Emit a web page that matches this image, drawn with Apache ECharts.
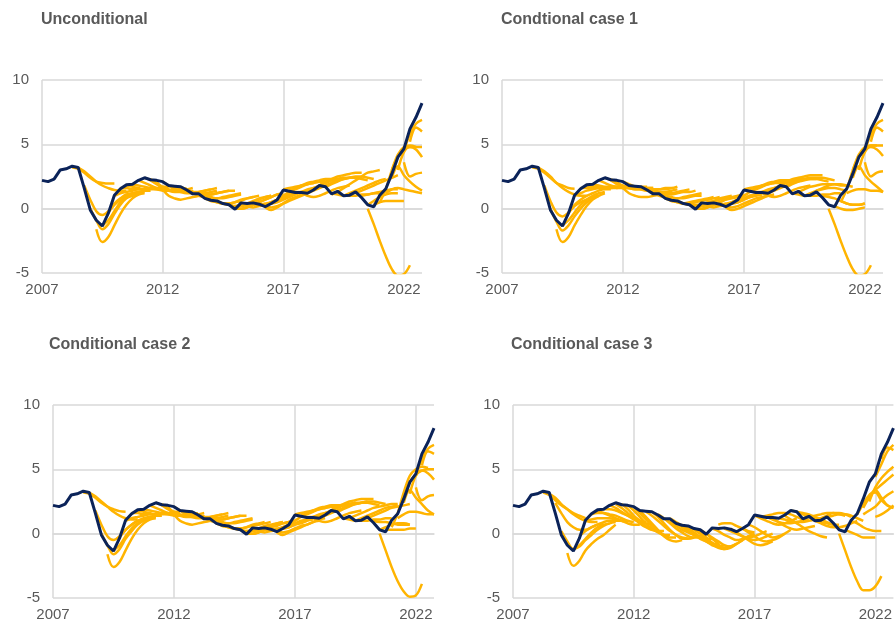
<!DOCTYPE html>
<html><head><meta charset="utf-8">
<script src="https://cdn.jsdelivr.net/npm/echarts@6/dist/echarts.min.js"></script>
<style>html,body{margin:0;padding:0;background:#fff}#c{width:895px;height:626px}</style>
</head><body><div id="c"></div>
<script>
// Quarter categories 2007Q1 .. 2022Q4
const years = [2007,2008,2009,2010,2011,2012,2013,2014,2015,2016,2017,2018,2019,2020,2021,2022];
const quarters = [];
years.forEach(y => ['Q1','Q2','Q3','Q4'].forEach(q => quarters.push(y + q)));

const panelTitles = ['Unconditional', 'Condtional case 1', 'Conditional case 2', 'Conditional case 3'];

// Realised inflation (navy line), quarterly
const actual = [2.2,2.1,2.3,3.0,3.1,3.3,3.2,1.6,-0.1,-0.9,
  -1.35,-0.35,1.05,1.55,1.85,1.9,2.2,2.4,2.25,2.2,
  2.1,1.8,1.75,1.7,1.45,1.15,1.15,0.8,0.65,0.6,
  0.4,0.3,-0.05,0.45,0.4,0.45,0.35,0.15,0.4,0.7,
  1.45,1.35,1.25,1.25,1.2,1.45,1.8,1.7,1.15,1.35,
  1.0,1.05,1.3,0.85,0.3,0.15,1.05,1.55,2.7,4.0,
  4.65,6.2,7.1,8.2];

// Forecast paths: [start quarter index, values...]
const uncondPaths = [
  [5, 3.2, 3.1, 2.8, 2.4, 2.1, 2.0, 1.95, 1.95],
  [6, 3.2, 2.9, 2.5, 2.1, 1.8, 1.6, 1.45, 1.4, 1.4],
  [7, 1.8, 0.7, -0.2, -0.5, -0.2, 0.4, 0.8, 1.1, 1.2, 1.25],
  [8, 0.0, -0.9, -1.6, -1.2, -0.4, 0.3, 0.8, 1.0, 1.1],
  [9, -1.6, -2.6, -2.2, -1.3, -0.4, 0.3, 0.8, 1.1, 1.2],
  [10, -1.3, -0.9, -0.2, 0.5, 0.9, 1.1, 1.2, 1.3],
  [11, -0.3, 0.3, 0.7, 1.0, 1.2, 1.3, 1.4, 1.4],
  [12, 1.0, 1.2, 1.3, 1.4, 1.5, 1.5, 1.6, 1.6],
  [13, 1.6, 1.6, 1.5, 1.5, 1.5, 1.6, 1.6, 1.7, 1.7],
  [14, 1.8, 1.7, 1.6, 1.5, 1.5, 1.5, 1.5, 1.6],
  [15, 1.9, 1.8, 1.7, 1.6, 1.5, 1.4, 1.4, 1.5],
  [16, 2.2, 2.0, 1.8, 1.6, 1.5, 1.4, 1.5, 1.5, 1.6],
  [17, 2.4, 2.2, 1.9, 1.6, 1.4, 1.3, 1.3, 1.3, 1.4],
  [18, 2.3, 2.0, 1.7, 1.5, 1.4, 1.4, 1.5, 1.6],
  [19, 2.1, 1.5, 1.0, 0.8, 0.7, 0.8, 0.9, 1.0, 1.1],
  [20, 2.1, 1.8, 1.5, 1.3, 1.2, 1.2, 1.3, 1.4, 1.5],
  [21, 1.8, 1.6, 1.5, 1.4, 1.3, 1.3, 1.4, 1.5, 1.6],
  [22, 1.7, 1.6, 1.4, 1.3, 1.2, 1.2, 1.3, 1.4],
  [23, 1.7, 1.5, 1.3, 1.2, 1.1, 1.1, 1.2, 1.3, 1.4],
  [24, 1.5, 1.3, 1.2, 1.1, 1.1, 1.2, 1.3, 1.4, 1.4],
  [25, 1.2, 1.0, 0.9, 0.8, 0.8, 0.9, 1.0, 1.1, 1.2],
  [26, 1.2, 1.0, 0.9, 0.8, 0.8, 0.9, 1.0, 1.1],
  [27, 0.8, 0.6, 0.5, 0.4, 0.4, 0.5, 0.7, 0.8, 0.9],
  [28, 0.7, 0.5, 0.4, 0.4, 0.5, 0.6, 0.8, 0.9, 1.0],
  [29, 0.6, 0.4, 0.3, 0.2, 0.3, 0.4, 0.6, 0.8, 0.9, 1.0],
  [30, 0.4, 0.3, 0.2, 0.2, 0.3, 0.5, 0.7, 0.9, 1.0],
  [31, 0.3, 0.1, 0.0, 0.1, 0.3, 0.5, 0.7, 0.9, 1.1, 1.2],
  [32, 0.0, 0.0, 0.1, 0.3, 0.5, 0.7, 0.9, 1.1, 1.2],
  [33, 0.4, 0.2, 0.1, 0.2, 0.3, 0.5, 0.7, 0.9, 1.1, 1.3],
  [34, 0.4, 0.3, 0.3, 0.4, 0.5, 0.7, 0.9, 1.1, 1.2],
  [35, 0.4, 0.3, 0.3, 0.4, 0.6, 0.8, 1.0, 1.2, 1.3],
  [36, 0.4, 0.2, 0.1, 0.2, 0.4, 0.6, 0.8, 1.0, 1.2],
  [37, 0.1, -0.1, 0.1, 0.4, 0.7, 0.9, 1.1, 1.3, 1.5],
  [38, 0.4, 0.5, 0.7, 0.9, 1.1, 1.3, 1.5, 1.6, 1.7],
  [39, 0.8, 1.0, 1.3, 1.5, 1.7, 1.9, 2.0, 2.1, 2.2],
  [40, 1.5, 1.6, 1.7, 1.8, 1.9, 2.0, 2.1, 2.1, 2.2],
  [41, 1.4, 1.6, 1.8, 2.0, 2.1, 2.2, 2.3, 2.3, 2.3],
  [42, 1.3, 1.3, 1.4, 1.6, 1.8, 2.0, 2.2, 2.3, 2.4],
  [43, 1.2, 1.0, 0.9, 1.0, 1.2, 1.4, 1.6, 1.7, 1.8],
  [44, 1.2, 1.4, 1.6, 1.8, 2.0, 2.2, 2.3, 2.4, 2.4],
  [45, 1.5, 1.8, 2.1, 2.3, 2.5, 2.6, 2.7, 2.8, 2.8],
  [46, 1.8, 2.0, 2.2, 2.3, 2.4, 2.4, 2.4, 2.3, 2.2],
  [47, 1.7, 1.9, 2.1, 2.3, 2.4, 2.5, 2.5, 2.4, 2.3],
  [48, 1.2, 1.1, 1.0, 1.0, 1.0, 1.1, 1.1, 1.2, 1.2],
  [48, 1.1, 1.3, 1.6, 1.9, 2.2, 2.5, 2.8, 2.9, 3.0],
  [50, 1.0, 1.2, 1.4, 1.6, 1.8, 2.0, 2.2, 2.3],
  [52, 1.2, 1.4, 1.6, 1.8, 2.0, 2.2, 2.4, 2.6],
  [53, 1.0, 1.1, 1.2, 1.3, 1.4, 1.5, 1.5],
  [54, 0.0, -1.2, -2.5, -3.7, -4.7, -5.2, -5.1, -4.4],
  [54, 0.3, 0.6, 0.9, 1.1, 1.2, 1.2],
  [55, 0.3, 0.5, 0.6, 0.6, 0.6, 0.6],
  [56, 0.5, 1.5, 3.0, 4.2, 4.8, 4.9, 4.8],
  [57, 1.2, 1.5, 1.6, 1.5, 1.4, 1.3, 1.2],
  [58, 2.4, 3.3, 2.6, 2.1, 1.7, 1.4],
  [60, 3.6, 2.5, 2.7, 2.8],
  [59, 3.0, 4.4, 4.8, 4.6, 4.0],
  [58, 3.0, 4.0, 4.6, 4.8, 4.8, 4.8],
  [60, 4.5, 5.8, 6.6, 6.9],
  [61, 5.2, 6.3, 6.0]
];

const case1Paths = [
  [5, 3.2, 3.1, 2.8, 2.4, 2.0, 1.8, 1.6, 1.55],
  [6, 3.2, 2.9, 2.5, 2.0, 1.6, 1.3, 1.1, 1.0, 1.0],
  [7, 1.8, 0.6, -0.3, -0.6, -0.3, 0.2, 0.5, 0.7, 0.9, 1.0],
  [8, 0.0, -1.0, -1.7, -1.3, -0.6, 0.0, 0.5, 0.8, 1.0],
  [9, -1.6, -2.6, -2.2, -1.3, -0.5, 0.2, 0.7, 1.0, 1.2],
  [10, -1.3, -0.9, -0.3, 0.3, 0.7, 1.0, 1.2, 1.3],
  [11, -0.3, 0.3, 0.7, 1.0, 1.2, 1.4, 1.5, 1.5],
  [12, 1.0, 1.2, 1.4, 1.5, 1.6, 1.6, 1.6, 1.7],
  [13, 1.6, 1.6, 1.6, 1.6, 1.6, 1.7, 1.7, 1.7, 1.7],
  [14, 1.8, 1.7, 1.7, 1.6, 1.6, 1.6, 1.7, 1.7],
  [15, 1.9, 1.8, 1.7, 1.7, 1.6, 1.6, 1.6, 1.7],
  [16, 2.2, 2.0, 1.8, 1.7, 1.6, 1.6, 1.6, 1.7, 1.7],
  [17, 2.4, 2.2, 1.9, 1.7, 1.6, 1.5, 1.5, 1.6, 1.6],
  [18, 2.3, 2.0, 1.8, 1.6, 1.5, 1.5, 1.6, 1.6],
  [19, 2.1, 1.6, 1.2, 1.0, 0.9, 0.9, 1.0, 1.1, 1.2],
  [20, 2.1, 1.9, 1.7, 1.5, 1.4, 1.4, 1.5, 1.5, 1.6],
  [21, 1.8, 1.7, 1.6, 1.5, 1.5, 1.5, 1.6, 1.6, 1.7],
  [22, 1.7, 1.6, 1.5, 1.4, 1.3, 1.3, 1.4, 1.5],
  [23, 1.7, 1.5, 1.3, 1.2, 1.2, 1.2, 1.3, 1.4, 1.5],
  [24, 1.5, 1.3, 1.2, 1.1, 1.1, 1.2, 1.3, 1.3, 1.4],
  [25, 1.2, 1.0, 0.9, 0.8, 0.8, 0.9, 1.0, 1.1, 1.2],
  [26, 1.2, 1.0, 0.9, 0.8, 0.8, 0.9, 1.0, 1.0],
  [27, 0.8, 0.6, 0.5, 0.4, 0.5, 0.6, 0.7, 0.8, 0.9],
  [28, 0.7, 0.5, 0.4, 0.4, 0.5, 0.6, 0.7, 0.8, 0.9],
  [29, 0.6, 0.4, 0.3, 0.3, 0.3, 0.5, 0.6, 0.8, 0.9, 1.0],
  [30, 0.4, 0.3, 0.2, 0.2, 0.3, 0.5, 0.7, 0.8, 0.9],
  [31, 0.3, 0.1, 0.0, 0.1, 0.3, 0.5, 0.7, 0.9, 1.0, 1.1],
  [32, 0.0, 0.0, 0.1, 0.3, 0.5, 0.7, 0.8, 0.9, 1.0],
  [33, 0.4, 0.2, 0.1, 0.2, 0.3, 0.5, 0.7, 0.8, 1.0, 1.1],
  [34, 0.4, 0.3, 0.3, 0.4, 0.5, 0.7, 0.8, 1.0, 1.1],
  [35, 0.4, 0.3, 0.3, 0.4, 0.5, 0.7, 0.9, 1.0, 1.1],
  [36, 0.4, 0.2, 0.1, 0.2, 0.4, 0.6, 0.8, 0.9, 1.0],
  [37, 0.1, -0.1, 0.0, 0.2, 0.4, 0.6, 0.8, 1.0, 1.1],
  [38, 0.4, 0.5, 0.7, 0.9, 1.1, 1.3, 1.5, 1.6, 1.7],
  [39, 0.8, 1.0, 1.3, 1.5, 1.7, 1.9, 2.0, 2.1, 2.2],
  [40, 1.5, 1.6, 1.7, 1.8, 1.9, 2.0, 2.0, 2.1, 2.1],
  [41, 1.4, 1.6, 1.8, 2.0, 2.1, 2.2, 2.2, 2.2, 2.2],
  [42, 1.3, 1.3, 1.4, 1.6, 1.8, 2.0, 2.1, 2.2, 2.3],
  [43, 1.2, 1.0, 0.9, 1.0, 1.2, 1.4, 1.6, 1.7, 1.8],
  [44, 1.2, 1.4, 1.6, 1.8, 2.0, 2.1, 2.2, 2.3, 2.3],
  [45, 1.5, 1.8, 2.1, 2.3, 2.4, 2.5, 2.6, 2.6, 2.6],
  [46, 1.8, 2.0, 2.2, 2.3, 2.3, 2.3, 2.3, 2.2, 2.1],
  [47, 1.7, 1.9, 2.1, 2.3, 2.4, 2.4, 2.4, 2.3, 2.2],
  [48, 1.2, 1.1, 1.0, 1.0, 1.0, 1.1, 1.1, 1.2, 1.2],
  [49, 1.3, 1.5, 1.7, 1.8, 1.9, 1.9, 1.9, 1.8, 1.8],
  [50, 1.0, 1.2, 1.4, 1.5, 1.6, 1.6, 1.5, 1.4],
  [52, 1.4, 1.6, 1.8, 1.9, 1.9, 1.8, 1.7],
  [53, 1.0, 0.9, 0.8, 0.6, 0.4, 0.3, 0.3, 0.4],
  [54, 0.0, -1.2, -2.5, -3.7, -4.7, -5.2, -5.1, -4.4],
  [55, 0.2, 0.0, -0.1, -0.1, 0.0, 0.1],
  [56, 0.6, 0.4, 0.3, 0.3, 0.4],
  [56, 0.5, 1.5, 3.0, 4.2, 4.8, 4.9, 4.9],
  [57, 1.2, 1.4, 1.5, 1.5, 1.4, 1.4, 1.3],
  [58, 2.4, 3.3, 2.6, 2.1, 1.7, 1.3],
  [60, 3.6, 2.5, 2.8, 2.9],
  [59, 3.0, 4.4, 4.8, 4.6, 4.1],
  [58, 3.0, 4.0, 4.6, 4.9, 4.9, 4.9],
  [60, 4.5, 5.8, 6.6, 6.9],
  [61, 5.2, 6.3, 6.0]
];

const case2Paths = [
  [5, 3.2, 3.1, 2.8, 2.4, 2.1, 1.9, 1.75, 1.7],
  [6, 3.2, 2.9, 2.5, 2.1, 1.7, 1.4, 1.2, 1.1, 1.1],
  [7, 1.8, 0.7, -0.2, -0.5, -0.2, 0.3, 0.7, 1.0, 1.1, 1.2],
  [8, 0.0, -0.9, -1.6, -1.2, -0.4, 0.2, 0.7, 1.0, 1.1],
  [9, -1.6, -2.6, -2.2, -1.3, -0.4, 0.3, 0.8, 1.1, 1.2],
  [10, -1.3, -0.9, -0.2, 0.4, 0.8, 1.1, 1.2, 1.3],
  [11, -0.3, 0.3, 0.7, 1.0, 1.2, 1.3, 1.4, 1.4],
  [12, 1.0, 1.2, 1.3, 1.4, 1.5, 1.5, 1.6, 1.6],
  [13, 1.6, 1.6, 1.5, 1.5, 1.5, 1.6, 1.6, 1.7, 1.7],
  [14, 1.8, 1.7, 1.6, 1.5, 1.5, 1.5, 1.5, 1.6],
  [15, 1.9, 1.8, 1.7, 1.6, 1.5, 1.4, 1.4, 1.5],
  [16, 2.2, 2.0, 1.8, 1.6, 1.5, 1.4, 1.5, 1.5, 1.6],
  [17, 2.4, 2.2, 1.9, 1.6, 1.4, 1.3, 1.3, 1.3, 1.4],
  [18, 2.3, 2.0, 1.7, 1.5, 1.4, 1.4, 1.5, 1.6],
  [19, 2.1, 1.5, 1.0, 0.8, 0.7, 0.8, 0.9, 1.0, 1.1],
  [20, 2.1, 1.8, 1.5, 1.3, 1.2, 1.2, 1.3, 1.4, 1.5],
  [21, 1.8, 1.6, 1.5, 1.4, 1.3, 1.3, 1.4, 1.5, 1.6],
  [22, 1.7, 1.6, 1.4, 1.3, 1.2, 1.2, 1.3, 1.4],
  [23, 1.7, 1.5, 1.3, 1.2, 1.1, 1.1, 1.2, 1.3, 1.4],
  [24, 1.5, 1.3, 1.2, 1.1, 1.1, 1.2, 1.3, 1.4, 1.4],
  [25, 1.2, 1.0, 0.9, 0.8, 0.8, 0.9, 1.0, 1.1, 1.2],
  [26, 1.2, 1.0, 0.9, 0.8, 0.8, 0.9, 1.0, 1.1],
  [27, 0.8, 0.6, 0.5, 0.4, 0.4, 0.5, 0.7, 0.8, 0.9],
  [28, 0.7, 0.5, 0.4, 0.4, 0.5, 0.6, 0.7, 0.8, 0.9],
  [29, 0.6, 0.4, 0.3, 0.2, 0.3, 0.4, 0.6, 0.7, 0.8, 0.9],
  [30, 0.4, 0.3, 0.2, 0.2, 0.3, 0.5, 0.6, 0.8, 0.9],
  [31, 0.3, 0.1, 0.0, 0.1, 0.3, 0.5, 0.7, 0.8, 0.9, 1.0],
  [32, 0.0, 0.0, 0.1, 0.3, 0.5, 0.6, 0.8, 0.9, 1.0],
  [33, 0.4, 0.2, 0.1, 0.2, 0.3, 0.5, 0.6, 0.8, 0.9, 1.0],
  [34, 0.4, 0.3, 0.3, 0.4, 0.5, 0.7, 0.8, 1.0, 1.1],
  [35, 0.4, 0.3, 0.3, 0.4, 0.5, 0.7, 0.8, 1.0, 1.1],
  [36, 0.4, 0.2, 0.1, 0.2, 0.4, 0.6, 0.7, 0.9, 1.0],
  [37, 0.1, -0.1, 0.1, 0.3, 0.5, 0.7, 0.9, 1.1, 1.2],
  [38, 0.4, 0.5, 0.7, 0.9, 1.1, 1.3, 1.5, 1.6, 1.7],
  [39, 0.8, 1.0, 1.3, 1.5, 1.7, 1.9, 2.0, 2.1, 2.2],
  [40, 1.5, 1.6, 1.7, 1.8, 1.9, 2.0, 2.1, 2.1, 2.2],
  [41, 1.4, 1.6, 1.8, 2.0, 2.1, 2.2, 2.2, 2.2, 2.3],
  [42, 1.3, 1.3, 1.4, 1.6, 1.8, 2.0, 2.2, 2.3, 2.4],
  [43, 1.2, 1.0, 0.9, 1.0, 1.2, 1.4, 1.6, 1.7, 1.8],
  [44, 1.2, 1.4, 1.6, 1.8, 2.0, 2.2, 2.3, 2.4, 2.5],
  [45, 1.5, 1.8, 2.1, 2.3, 2.5, 2.6, 2.7, 2.7, 2.7],
  [46, 1.8, 2.0, 2.2, 2.3, 2.4, 2.4, 2.4, 2.3, 2.2],
  [47, 1.7, 1.9, 2.1, 2.3, 2.4, 2.5, 2.5, 2.4, 2.3],
  [48, 1.2, 1.1, 1.0, 1.0, 1.0, 1.1, 1.1, 1.2, 1.2],
  [49, 1.2, 1.4, 1.6, 1.8, 2.0, 2.1, 2.2, 2.3, 2.3],
  [50, 1.0, 1.2, 1.4, 1.6, 1.8, 2.0, 2.1, 2.2],
  [52, 1.2, 1.4, 1.6, 1.8, 2.0, 2.1, 2.2, 2.3],
  [53, 1.0, 0.9, 0.9, 0.8, 0.7, 0.7, 0.7],
  [54, 0.0, -1.3, -2.6, -3.7, -4.5, -4.9, -4.8, -3.9],
  [54, 0.3, 0.5, 0.7, 0.8, 0.8, 0.7],
  [55, 0.3, 0.3, 0.3, 0.3, 0.4, 0.4],
  [56, 0.5, 1.6, 3.2, 4.5, 5.0, 5.2, 5.1],
  [57, 1.2, 1.5, 1.7, 1.7, 1.6, 1.5, 1.5],
  [58, 2.4, 3.4, 2.8, 2.3, 1.8, 1.5],
  [60, 3.6, 2.6, 2.9, 3.0],
  [59, 3.1, 4.5, 4.9, 4.7, 4.2],
  [58, 3.0, 4.0, 4.6, 4.9, 5.0, 5.0],
  [60, 4.5, 5.8, 6.6, 6.9],
  [61, 5.3, 6.4, 6.2]
];

const case3Paths = [
  [5, 3.2, 3.0, 2.6, 2.2, 1.9, 1.6, 1.4, 1.2],
  [6, 3.1, 2.8, 2.3, 1.9, 1.5, 1.2, 1.0, 0.9, 0.9],
  [7, 2.4, 1.6, 0.9, 0.5, 0.3, 0.3, 0.5, 0.7, 0.8],
  [8, 0.2, -0.6, -1.2, -0.9, -0.4, 0.1, 0.5, 0.7, 0.8],
  [9, -1.5, -2.5, -2.1, -1.3, -0.8, -0.4, -0.1, 0.3, 0.7],
  [10, -1.2, -1.0, -0.5, -0.1, 0.3, 0.6, 0.8, 0.9],
  [11, -0.2, 0.2, 0.5, 0.7, 0.9, 1.0, 1.0, 1.0],
  [12, 1.0, 1.1, 1.2, 1.2, 1.2, 1.1, 1.0, 0.9],
  [13, 1.5, 1.6, 1.6, 1.5, 1.4, 1.2, 1.0, 0.9],
  [14, 1.8, 1.6, 1.4, 1.2, 1.0, 0.8, 0.7, 0.7],
  [15, 1.9, 1.9, 1.8, 1.6, 1.4, 1.2, 1.0, 0.9],
  [16, 2.2, 2.0, 1.7, 1.4, 1.1, 0.9, 0.8, 0.7],
  [17, 2.3, 2.0, 1.6, 1.2, 0.8, 0.5, 0.3, 0.3],
  [18, 2.3, 1.9, 1.4, 1.0, 0.6, 0.3, 0.2, 0.2],
  [19, 2.2, 1.8, 1.3, 0.8, 0.4, 0.1, -0.1, -0.1],
  [20, 2.1, 1.6, 1.1, 0.6, 0.2, -0.1, -0.3, -0.3],
  [21, 1.8, 1.3, 0.8, 0.3, -0.2, -0.5, -0.6, -0.5],
  [22, 1.7, 1.4, 1.0, 0.6, 0.2, -0.1, -0.3, -0.4],
  [23, 1.7, 1.3, 0.8, 0.3, -0.1, -0.4, -0.4, -0.3],
  [24, 1.5, 1.2, 0.8, 0.4, 0.1, -0.2, -0.3, -0.3],
  [25, 1.2, 0.9, 0.6, 0.3, 0.1, -0.1, -0.2, -0.2],
  [26, 1.2, 0.9, 0.6, 0.2, -0.1, -0.3, -0.4, -0.4],
  [27, 0.8, 0.5, 0.2, -0.1, -0.4, -0.6, -0.8, -0.8],
  [28, 0.7, 0.4, 0.1, -0.3, -0.6, -0.9, -1.0, -0.9],
  [29, 0.6, 0.3, 0.0, -0.4, -0.8, -1.1, -1.2, -1.0],
  [30, 0.4, 0.1, -0.3, -0.7, -1.0, -1.1, -1.0, -0.8],
  [31, 0.3, 0.0, -0.4, -0.8, -1.2, -1.1, -0.8, -0.5],
  [32, 0.0, -0.3, -0.6, -0.9, -1.0, -0.8, -0.5, -0.2],
  [33, 0.4, 0.2, -0.1, -0.3, -0.5, -0.4, -0.2, 0.0],
  [34, 0.7, 0.8, 0.8, 0.6, 0.4, 0.2, 0.1],
  [35, 0.4, 0.2, 0.0, -0.2, -0.3, -0.2, 0.0, 0.2],
  [36, 0.4, 0.1, -0.2, -0.4, -0.5, -0.4, -0.2, 0.0],
  [37, 0.1, -0.2, -0.5, -0.8, -0.9, -0.8, -0.6],
  [38, 0.4, 0.1, -0.2, -0.5, -0.6, -0.5, -0.3, 0.0],
  [39, 0.7, 0.5, 0.2, -0.1, -0.3, -0.2, 0.0, 0.3],
  [40, 1.4, 1.2, 1.0, 0.8, 0.7, 0.8, 1.0, 1.2],
  [41, 1.3, 1.4, 1.5, 1.6, 1.6, 1.5, 1.3, 1.1],
  [42, 1.3, 1.1, 0.9, 0.8, 0.8, 0.9, 1.0, 1.1],
  [43, 1.2, 0.9, 0.6, 0.4, 0.3, 0.4, 0.5, 0.6],
  [44, 1.2, 1.1, 1.0, 0.9, 0.9, 1.0, 1.1, 1.2],
  [45, 1.4, 1.1, 0.8, 0.5, 0.2, 0.0, -0.2, -0.3],
  [46, 1.8, 1.7, 1.6, 1.5, 1.3, 1.1, 0.9, 0.7],
  [47, 1.7, 1.5, 1.3, 1.1, 0.9, 0.8, 0.7, 0.7],
  [48, 1.2, 1.3, 1.4, 1.5, 1.6, 1.6, 1.5, 1.4],
  [50, 1.0, 0.8, 0.6, 0.5, 0.5, 0.6, 0.8, 1.0],
  [50, 1.0, 1.2, 1.4, 1.6, 1.6, 1.5, 1.3],
  [52, 1.3, 1.4, 1.5, 1.5, 1.4, 1.2, 1.0],
  [54, 0.0, -1.3, -2.6, -3.7, -4.4, -4.4, -4.1, -3.3],
  [55, 0.3, 0.1, -0.1, -0.3, -0.3, -0.3],
  [56, 1.0, 0.8, 0.5, 0.3, 0.2, 0.2],
  [57, 1.5, 2.3, 3.0, 3.2, 2.6, 2.2, 2.0],
  [58, 2.0, 2.8, 3.4, 2.8, 2.2, 2.0],
  [59, 3.0, 3.4, 3.8, 4.2, 4.6],
  [59, 2.5, 3.6, 4.3, 4.8, 5.2],
  [58, 1.5, 1.8, 2.1, 2.6, 3.0, 3.3],
  [60, 1.3, 1.5, 1.8, 2.2],
  [60, 4.4, 5.4, 6.4, 6.9],
  [61, 5.8, 6.7, 6.5]
];

const yTicks = {min: -5, max: 10, step: 5};
const allPaths = [uncondPaths, case1Paths, case2Paths, case3Paths];

const grids = [
  {left: 42, top: 80, width: 380, height: 193},
  {left: 502, top: 80, width: 381, height: 193},
  {left: 53, top: 405, width: 381, height: 193},
  {left: 513, top: 405, width: 381, height: 193}
];
const titlePos = [
  {left: 41, top: 12}, {left: 501, top: 12}, {left: 49, top: 337}, {left: 511, top: 337}
];

const FONT = '"Liberation Sans", Arial, sans-serif';
const GRID_COLOR = '#d9d9d9';
const TEXT_COLOR = '#595959';

const option = {
  animation: false,
  backgroundColor: '#ffffff',
  title: panelTitles.map((t, i) => ({
    text: t, left: titlePos[i].left, top: titlePos[i].top, padding: 0,
    textStyle: {fontFamily: FONT, fontSize: 16, fontWeight: 'bold', color: TEXT_COLOR}
  })),
  grid: grids,
  xAxis: grids.map((g, i) => ({
    type: 'category', gridIndex: i, data: quarters, boundaryGap: false,
    axisTick: {show: false},
    axisLine: {show: true, lineStyle: {color: GRID_COLOR, width: 1.5}},
    axisLabel: {interval: 19, margin: 9, fontFamily: FONT, fontSize: 15, color: TEXT_COLOR,
      formatter: v => v.slice(0, 4)},
    splitLine: {show: true, interval: 19, lineStyle: {color: GRID_COLOR, width: 1.5}}
  })),
  yAxis: grids.map((g, i) => ({
    type: 'value', gridIndex: i, min: yTicks.min, max: yTicks.max, interval: yTicks.step,
    axisLine: {show: false}, axisTick: {show: false},
    axisLabel: {margin: 13, fontFamily: FONT, fontSize: 15, color: TEXT_COLOR},
    splitLine: {show: true, lineStyle: {color: GRID_COLOR, width: 1.5}}
  })),
  series: []
};

allPaths.forEach((paths, gi) => {
  paths.forEach(p => {
    option.series.push({
      type: 'line', xAxisIndex: gi, yAxisIndex: gi, showSymbol: false, symbol: 'none',
      smooth: 0.35, z: 2, silent: true,
      lineStyle: {color: '#FFB400', width: 2.5},
      data: p.slice(1).map((v, k) => [quarters[p[0] + k], v])
    });
  });
  option.series.push({
    type: 'line', xAxisIndex: gi, yAxisIndex: gi, showSymbol: false, symbol: 'none',
    z: 3, silent: true,
    lineStyle: {color: '#0B2359', width: 3},
    data: actual.map((v, k) => [quarters[k], v])
  });
});

const chart = echarts.init(document.getElementById('c'), null, {renderer: 'canvas'});
chart.setOption(option);
</script>
</body></html>
